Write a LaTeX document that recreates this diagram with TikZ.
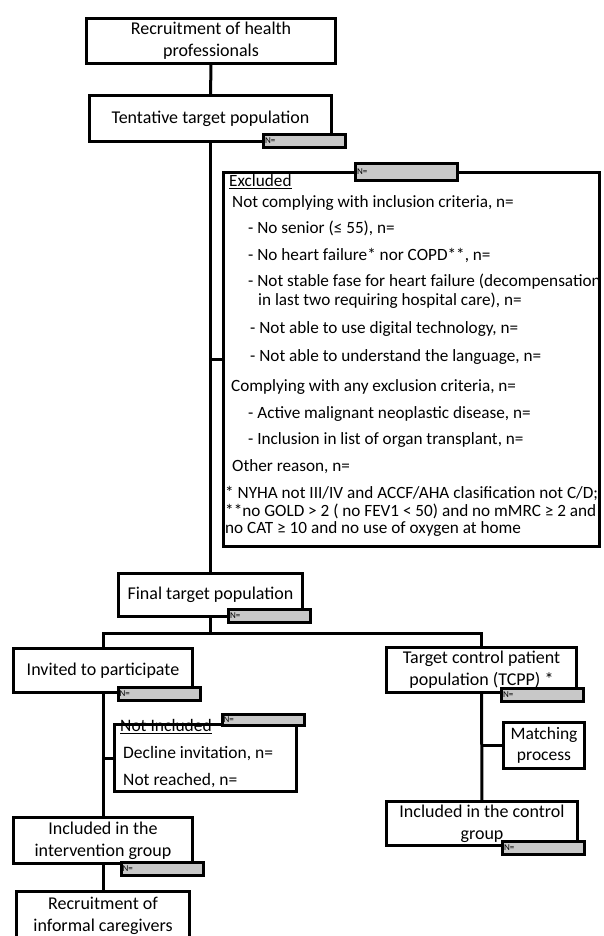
\documentclass[tikz,border=0pt]{standalone}
\usepackage{fontspec}
\setmainfont{Carlito}
\usepackage{xcolor}
\usepackage{tikz}
\usetikzlibrary{calc,positioning}
\definecolor{tagfill}{HTML}{C8C8C8}
\tikzset{
  box/.style={draw,line width=3pt,align=center,inner sep=2pt,font=\fontsize{18}{22}\selectfont},
  ntag/.style={draw,line width=3pt,fill=tagfill,minimum width=82pt,minimum height=13pt,inner sep=0pt,text width=79pt,align=left,font=\fontsize{9}{9}\selectfont},
  ln/.style={line width=3pt},
  txt/.style={anchor=west,inner sep=0pt,text height=11pt,text depth=4pt,font=\fontsize{17.2}{19}\selectfont},
  btxt/.style={txt,font=\fontsize{17.5}{20}\selectfont}
}

\begin{document}
\begin{tikzpicture}[x=1pt,y=-1pt]
\useasboundingbox (0,0) rectangle (603,936);
\clip (0,0) rectangle (603,936);
\node[box,minimum width=249pt,minimum height=45pt] (rechp) at (211,41) {Recruitment of health\\professionals};
\node[box,minimum width=242pt,minimum height=46pt] (tent) at (210.5,118.5) {Tentative target population};
\node[box,minimum width=376pt,minimum height=374pt] (excl) at (411.5,359.5) {};
\node[box,minimum width=184pt,minimum height=43pt] (final) at (210.5,595) {Final target population};
\node[box,minimum width=179pt,minimum height=44pt] (inv) at (103,670.5) {Invited to participate};
\node[box,minimum width=182pt,minimum height=67pt] (notinc) at (205.5,758) {};
\node[box,minimum width=190pt,minimum height=45pt] (tcpp) at (481.5,670) {Target control patient\\population (TCPP) *};
\node[box,minimum width=81pt,minimum height=46pt,inner sep=0pt,font=\fontsize{17.5}{21}\selectfont] (match) at (544,745.5) {Matching\\process};
\node[box,minimum width=191pt,minimum height=44pt] (ctrl) at (482,823.5) {Included in the control\\group};
\node[box,minimum width=179pt,minimum height=46pt] (intv) at (103,840.5) {Included in the\\intervention group};
\node[box,minimum width=173pt,minimum height=49pt] (infc) at (103,915.5) {Recruitment of\\informal caregivers};

\coordinate (split) at (210.5,633);
\draw[ln] (rechp) -- (tent);
\draw[ln] (tent) -- (final);
\draw[ln] (excl.west) -- (excl.west -| tent);
\draw[ln] (final) -- (split);
\draw[ln] (split) -| (inv);
\draw[ln] (split) -| (tcpp);
\draw[ln] (inv) -- (intv);
\draw[ln] (notinc.west) -- (notinc.west -| inv);
\draw[ln] (intv) -- (infc);
\draw[ln] (tcpp) -- (ctrl);
\draw[ln] (match.west) -- (match.west -| tcpp);

\node[txt] (exhead) at (229,183) {\underline{Excluded}};
\node[txt] (inc) at (232,204) {Not complying with inclusion criteria, n=};
\node[txt] (inc1) at (248,230) {- No senior (≤ 55), n=};
\node[txt] (inc2) at (248,257) {- No heart failure* nor COPD**, n=};
\node[txt] (inc3) at (248,283) {- Not stable fase for heart failure (decompensation};
\node[txt] (inc3b) at (258,302) {in last two requiring hospital care), n=};
\node[txt] (inc4) at (250,330) {- Not able to use digital technology, n=};
\node[txt] (inc5) at (250,358) {- Not able to understand the language, n=};
\node[txt] (exc) at (231,388) {Complying with any exclusion criteria, n=};
\node[txt] (exc1) at (248,415) {- Active malignant neoplastic disease, n=};
\node[txt] (exc2) at (248,441) {- Inclusion in list of organ transplant, n=};
\node[txt] (other) at (232,468) {Other reason, n=};
\node[txt] (note1) at (225,495) {* NYHA not III/IV and ACCF/AHA clasification not C/D;};
\node[txt] (note2) at (225,513) {**no GOLD > 2 ( no FEV1 < 50) and no mMRC ≥ 2 and};
\node[txt] (note3) at (225,530) {no CAT ≥ 10 and no use of oxygen at home};

\node[btxt] (nihead) at (120,728) {\underline{Not Included}};
\node[btxt] (decl) at (123,755) {Decline invitation, n=};
\node[btxt] (reach) at (123,782) {Not reached, n=};

\node[ntag] (tentn) at (304.5,141) {N=};
\node[ntag,minimum width=102pt,minimum height=17pt,text width=99pt] (excln) at (406.5,172) {N=};
\node[ntag] (finaln) at (269.5,615.5) {N=};
\node[ntag] (invn) at (159,694) {N=};
\node[ntag,minimum height=11pt] (notincn) at (263,720) {N=};
\node[ntag] (tcppn) at (542.5,694.5) {N=};
\node[ntag] (ctrln) at (543.5,847.5) {N=};
\node[ntag] (intvn) at (162,869) {N=};
\end{tikzpicture}
\end{document}
